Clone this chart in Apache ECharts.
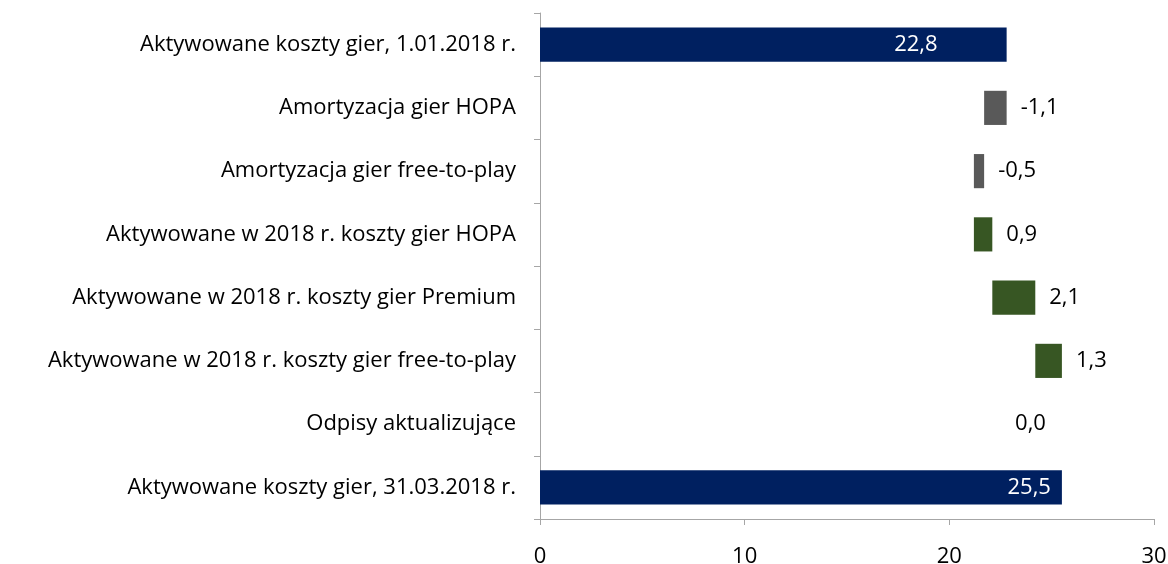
<!DOCTYPE html>
<html><head><meta charset="utf-8">
<script src="https://cdn.jsdelivr.net/npm/echarts@6/dist/echarts.min.js"></script>
<style>html,body{margin:0;padding:0;background:#fff}#c{width:1168px;height:564px}</style>
</head><body><div id="c"></div>
<script>
const categories = [
  'Aktywowane koszty gier, 1.01.2018 r.',
  'Amortyzacja gier HOPA',
  'Amortyzacja gier free-to-play',
  'Aktywowane w 2018 r. koszty gier HOPA',
  'Aktywowane w 2018 r. koszty gier Premium',
  'Aktywowane w 2018 r. koszty gier free-to-play',
  'Odpisy aktualizujące',
  'Aktywowane koszty gier, 31.03.2018 r.'
];
const values = [22.8, -1.1, -0.5, 0.9, 2.1, 1.3, 0.0, 25.5];
const kinds = ['total','change','change','change','change','change','change','total'];
const xTicks = [0, 10, 20, 30];

const colors = {total:'#002060', neg:'#595959', pos:'#375623'};
let running = 0;
const base = [], shown = [];
values.forEach((v, i) => {
  if (kinds[i] === 'total') {
    running = v;
    base.push(0);
    shown.push({value: v, itemStyle:{color: colors.total},
      label:{show:true, position:'insideRight', color:'#fff', distance: i===0 ? 69 : 11}});
  } else {
    const start = running;
    running = +(running + v).toFixed(2);
    base.push(Math.min(start, running));
    const item = {value: Math.abs(v), raw: v,
      itemStyle:{color: v < 0 ? colors.neg : colors.pos},
      label:{show:true, position:'right', color:'#000', distance:14}};
    if (v === 0) item.label = {show:true, position:'left', color:'#000', distance:16};
    shown.push(item);
  }
});
const fmt = v => v.toFixed(1).replace('.', ',');
const chart = echarts.init(document.getElementById('c'));
const font = '"Open Sans", sans-serif';
chart.setOption({
  animation:false,
  textStyle:{fontFamily:font},
  grid:{left:540, right:14, top:13, bottom:45, containLabel:false, outerBoundsMode:'none'},
  xAxis:{type:'value', min:0, max:30, interval:10,
    axisLine:{show:true, lineStyle:{color:'#a6a6a6'}},
    axisTick:{show:true, length:6, lineStyle:{color:'#a6a6a6'}},
    splitLine:{show:false},
    axisLabel:{color:'#000', fontSize:22, fontFamily:font, margin:27,
      formatter: v => xTicks.includes(v) ? String(v) : ''}},
  yAxis:{type:'category', data:categories, inverse:true,
    axisLine:{show:true, lineStyle:{color:'#a6a6a6'}},
    axisTick:{show:true, length:6, lineStyle:{color:'#a6a6a6'}},
    axisLabel:{color:'#000', fontSize:22, fontFamily:font, margin:24}},
  series:[
    {type:'bar', stack:'w', data:base, itemStyle:{color:'transparent'}, silent:true, barCategoryGap:'46%'},
    {type:'bar', stack:'w', data:shown, barCategoryGap:'46%',
      label:{show:true, fontSize:22, fontFamily:font,
        formatter: p => fmt(p.data.raw !== undefined ? p.data.raw : p.value)}}
  ]
});
</script></body></html>
